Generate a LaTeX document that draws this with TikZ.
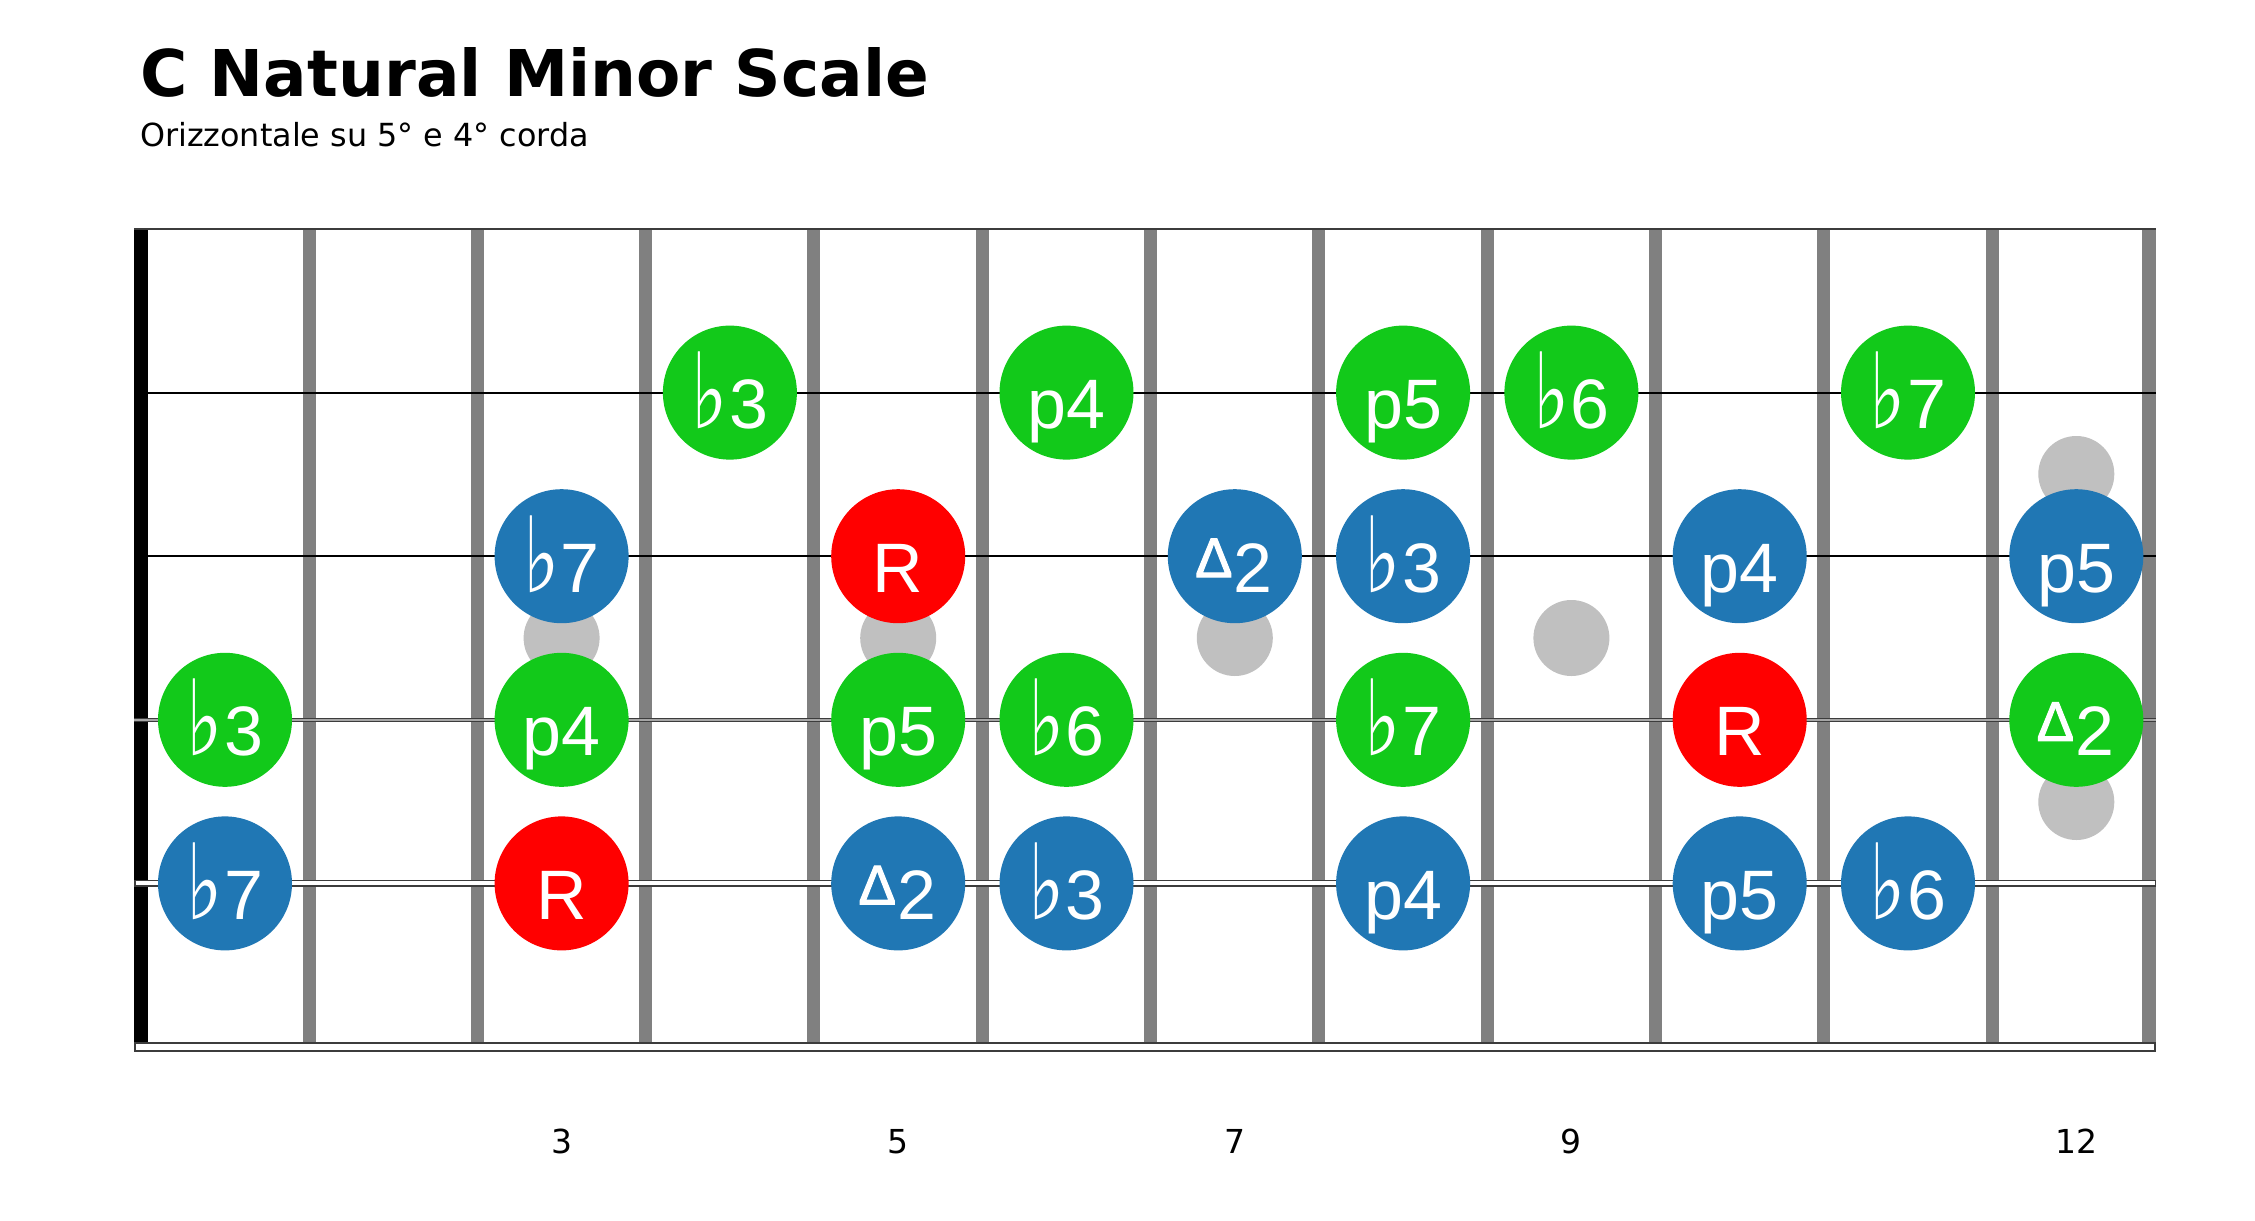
\documentclass[tikz,border=0pt]{standalone}
\usepackage{graphicx}
\usepackage{fontspec}
\setmainfont{Liberation Sans}
\newfontfamily\dejavu{DejaVu Sans}
\newfontfamily\trifont[FakeBold=1.8]{Liberation Sans}
\definecolor{notegreen}{RGB}{18,201,26}
\definecolor{noteblue}{RGB}{32,119,180}
\definecolor{notered}{RGB}{255,0,0}
\definecolor{inlay}{RGB}{192,192,192}
\definecolor{fretgray}{RGB}{128,128,128}
\definecolor{strdark}{RGB}{60,60,60}
\newcommand\fl{\scalebox{1.1}[1.5]{\dejavu ♭}\kern1pt}
\newcommand\tri{\raisebox{15pt}{\scalebox{0.8}{\trifont ∆}}\kern3pt}
\tikzset{
  notedot/.style={circle,draw=none,minimum size=134pt,inner sep=0pt},
  notelab/.style={anchor=base,inner sep=0pt,text=white,font=\fontsize{70}{84}\selectfont},
  inlaydot/.style={circle,fill=inlay,draw=none,minimum size=76pt,inner sep=0pt},
  fretnum/.style={anchor=base,inner sep=0pt,font=\dejavu\fontsize{33}{40}\selectfont},
  fretwire/.style={fill=fretgray,draw=none},
}
\begin{document}
\begin{tikzpicture}[x=1pt,y=-1pt]
\useasboundingbox[fill=white] (0,0) rectangle (2255,1221);
% title
\node[anchor=base west,inner sep=0pt] (title) at (140,96) {\dejavu\bfseries\fontsize{64.5}{78}\selectfont C Natural Minor Scale};
\node[anchor=base west,inner sep=0pt] (subtitle) at (140,146) {\dejavu\fontsize{31.8}{38}\selectfont Orizzontale su 5° e 4° corda};
% nut
\fill[black] (134,229) rectangle (148,1047);
% frets
\foreach \k in {1,...,11}{
  \pgfmathsetmacro\fx{309+168.3*(\k-1)}
  \fill[fretwire] (\fx-6.5,229) rectangle (\fx+6.5,1047);
}
\fill[fretwire] (2142,229) rectangle (2156,1047);
% strings
\draw[strdark,line width=2.5pt] (134,229) -- (2156,229);
\draw[black,line width=2pt] (134,392.6) -- (2156,392.6);
\draw[black,line width=2pt] (134,556.2) -- (2156,556.2);
\draw[strdark,line width=4.5pt] (134,719.8) -- (2156,719.8);
\draw[gray!70,line width=1.5pt] (134,719.8) -- (2156,719.8);
\draw[strdark,line width=7pt] (134,883.4) -- (2156,883.4);
\draw[white,line width=4pt] (135.5,883.4) -- (2154.5,883.4);
\draw[strdark,line width=10pt] (134,1047) -- (2156,1047);
\draw[white,line width=6.5pt] (136,1047) -- (2154,1047);
% inlays
\foreach \n in {3,5,7,9}{
  \node[inlaydot] (inlay\n) at ({225+168.3*(\n-1)},638) {};
}
\node[inlaydot] (inlay12a) at (2076.3,474) {};
\node[inlaydot] (inlay12b) at (2076.3,802) {};
% notes
\foreach \n/\s/\t/\c [count=\i] in {
  4/392.6/\fl3/notegreen, 6/392.6/p4/notegreen, 8/392.6/p5/notegreen, 9/392.6/\fl6/notegreen, 11/392.6/\fl7/notegreen,
  3/556.2/\fl7/noteblue, 5/556.2/R/notered, 7/556.2/\tri2/noteblue, 8/556.2/\fl3/noteblue, 10/556.2/p4/noteblue, 12/556.2/p5/noteblue,
  1/719.8/\fl3/notegreen, 3/719.8/p4/notegreen, 5/719.8/p5/notegreen, 6/719.8/\fl6/notegreen, 8/719.8/\fl7/notegreen, 10/719.8/R/notered, 12/719.8/\tri2/notegreen,
  1/883.4/\fl7/noteblue, 3/883.4/R/notered, 5/883.4/\tri2/noteblue, 6/883.4/\fl3/noteblue, 8/883.4/p4/noteblue, 10/883.4/p5/noteblue, 11/883.4/\fl6/noteblue}{
  \node[notedot,fill=\c] (note\i) at ({225+168.3*(\n-1)},\s) {};
  \node[notelab] (lab\i) at ([yshift=-36pt]note\i.center) {\t};
}
% fret numbers
\foreach \n in {3,5,7,9,12}{
  \node[fretnum] (num\n) at ({225+168.3*(\n-1)},1153) {\n};
}
\end{tikzpicture}
\end{document}
